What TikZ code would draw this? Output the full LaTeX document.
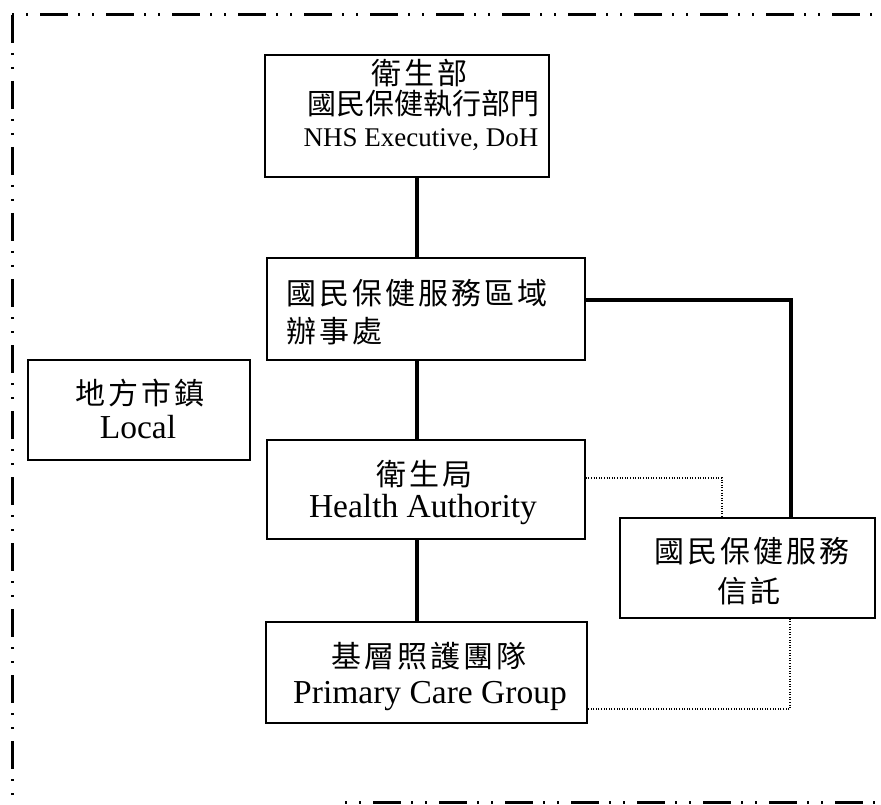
\documentclass[tikz,border=0pt]{standalone}
\usepackage{fontspec}
\setmainfont{Liberation Serif}
\newfontfamily\cjk[LetterSpace=10]{Noto Sans CJK TC}
\newfontfamily\cjkt{Noto Sans CJK TC}
\begin{document}
\begin{tikzpicture}[x=1pt,y=-1pt,
  box/.style={draw, line width=1.6pt, inner sep=0pt},
  zh/.style={font=\cjk\fontsize{30}{32}\selectfont, inner sep=0pt, execute at end node={\kern-3pt}},
  zht/.style={font=\cjkt\fontsize{29}{31}\selectfont, inner sep=0pt},
  en/.style={font=\fontsize{33.5}{35}\selectfont, inner sep=0pt},
  ens/.style={font=\fontsize{27}{29}\selectfont, inner sep=0pt},
  heavy/.style={line width=4pt},
  dotline/.style={line width=1.2pt, dash pattern=on 1pt off 1.6pt},
  frame/.style={line width=3pt}]
\useasboundingbox (0,0) rectangle (881,805);
% frame
\draw[frame, dash pattern=on 28pt off 10pt on 2pt off 12pt on 2pt off 12pt] (12,15) -- (12,805);
\draw[frame, dash pattern=on 2pt off 12pt on 2pt off 12pt on 28pt off 10pt] (12,15) -- (881,15);
\draw[frame, dash pattern=on 2pt off 12pt on 2pt off 12pt on 28pt off 10pt] (345,802) -- (881,802);
% boxes
\node[box, minimum width=284pt, minimum height=122pt] (top) at (407,116) {};
\node[box, minimum width=318pt, minimum height=102pt] (region) at (426,309) {};
\node[box, minimum width=318pt, minimum height=99pt] (ha) at (426,489.5) {};
\node[box, minimum width=222pt, minimum height=100pt] (local) at (139,410) {};
\node[box, minimum width=255pt, minimum height=100pt] (trust) at (747.5,568) {};
\node[box, minimum width=321pt, minimum height=101pt] (pcg) at (426.5,672.5) {};
% texts
\node[zh, anchor=base] (t1) at (418,85) {衛生部};
\node[zht, anchor=base] (t2) at (423,115) {國民保健執行部門};
\node[ens, anchor=base] (t3) at (421,147) {NHS Executive, DoH};
\node[zh, anchor=base west] (r1) at (286,304) {國民保健服務區域};
\node[zh, anchor=base west] (r2) at (286,342) {辦事處};
\node[zh, anchor=base] (h1) at (423,485) {衛生局};
\node[en, anchor=base] (h2) at (423,517) {Health Authority};
\node[zh, anchor=base] (l1) at (138,404) {地方市鎮};
\node[en, anchor=base] (l2) at (138,438) {Local};
\node[zh, anchor=base] (n1) at (750,562) {國民保健服務};
\node[zh, anchor=base] (n2) at (747,602) {信託};
\node[zh, anchor=base] (p1) at (427,667) {基層照護團隊};
\node[en, anchor=base] (p2) at (430,703) {Primary Care Group};
% connectors
\coordinate (vx) at (417,0);
\draw[heavy] (top.south -| vx) -- (region.north -| vx);
\draw[heavy] (region.south -| vx) -- (ha.north -| vx);
\draw[heavy] (ha.south -| vx) -- (pcg.north -| vx);
\coordinate (c1) at (791,300);
\draw[heavy] (region.east |- c1) -- (c1) -- (trust.north -| c1);
\coordinate (d1) at (722,478);
\draw[dotline] (ha.east |- d1) -- (d1) -- (trust.north -| d1);
\coordinate (d2) at (790,709);
\draw[dotline] (trust.south -| d2) -- (d2) -- (pcg.east |- d2);
\end{tikzpicture}
\end{document}
